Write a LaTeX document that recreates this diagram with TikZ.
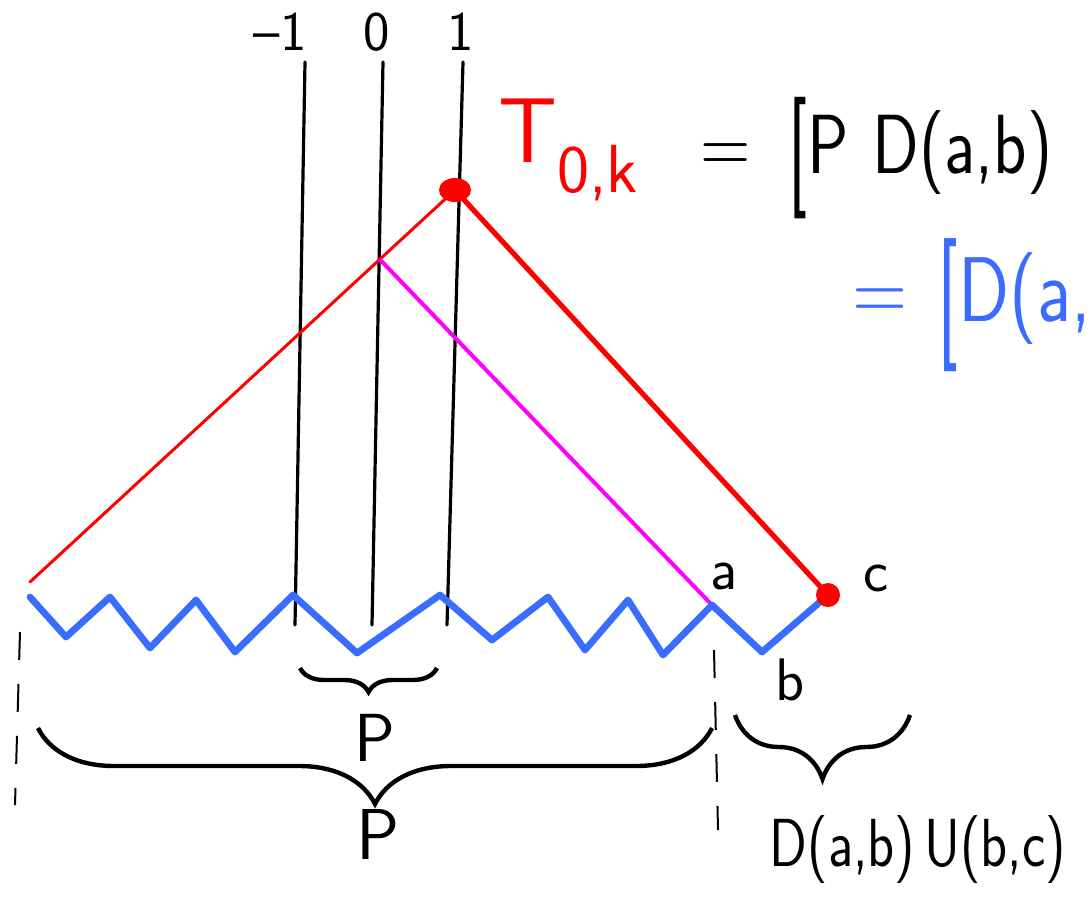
\documentclass[tikz,border=0pt]{standalone}
\usepackage{fontspec}
\usepackage{xcolor}
\usetikzlibrary{arrows.meta, positioning, calc, decorations.pathreplacing}
\definecolor{skRed}{RGB}{255,0,0}
\definecolor{skBlue}{RGB}{58,108,255}
\definecolor{skMagenta}{RGB}{255,0,255}
\newcommand{\tallbr}{\raisebox{-0.18em}{\scalebox{1}[1.45]{[}}}
\newcommand{\narrow}[1]{\scalebox{0.82}[1]{#1}}

\begin{document}
\begin{tikzpicture}[x=0.5pt, y=-0.5pt,
    pen/.style={line width=1.6pt, line cap=round, draw=black},
    redpen/.style={line width=#1, line cap=round, draw=skRed},
    zig/.style={line width=3.4pt, line cap=round, line join=round, draw=skBlue},
    cut/.style={line width=1pt, draw=black, dash pattern=on 14pt off 12pt},
    brc/.style={decorate, decoration={brace, mirror, amplitude=#1},
                line width=2.2pt, draw=black},
    lbl/.style={font=\sffamily\fontsize{#1}{#1}\selectfont, inner sep=0pt}]
\useasboundingbox (0,0) rectangle (1091,910);

% POINTS
\coordinate (apex) at (455,190);
\coordinate (left) at (30,582);
\coordinate (a) at (712,605);
\coordinate (b) at (762,652);
\coordinate (c) at (828,595);
\coordinate (mid) at ($(left)!0.823!(apex)$);

% Vertical lines
\foreach \n/\xt/\xb/\xl/\t in {m1/305/295/280/\textendash1, z0/383/372/377/0,
                              p1/463/447/461/1} {
   \coordinate (\n top) at (\xt,62);
   \coordinate (\n bot) at (\xb,625);
   \draw[pen] (\n top) -- (\n bot);
   \node[lbl=28pt] (\n lab) at (\xl,32) {\t};
}

% Light cone
\draw[redpen=1.5pt] (left) -- (apex);
\draw[redpen=2.6pt] (apex) -- (c);
\draw[line width=2pt, draw=skMagenta] (mid) -- (a);

% Zigzag
\draw[zig] (30,597) -- (66,637) -- (110,597) -- (150,648) -- (196,600)
   -- (235,652) -- (293,595) -- (357,653) -- (440,595) -- (492,640)
   -- (548,597) -- (585,650) -- (628,600) -- (663,655) -- (a) -- (b) -- (c);

\fill[skRed] (apex) ellipse [x radius=8pt, y radius=6pt];
\fill[skRed] (c) circle [radius=6pt];

% Point labels
\node[lbl=30pt] (alab) at (724,576) {a};
\node[lbl=30pt] (blab) at (790,680) {b};
\node[lbl=30pt] (clab) at (876,578) {c};

% Cuts
\draw[cut] (20,632) -- (15,805);
\draw[cut] (714,650) -- (718,830);

% Braces
\coordinate (sb1) at (300,668);
\coordinate (sb2) at (437,668);
\draw[brc=12pt] (sb1) -- (sb2);
\node[lbl=34pt] (plab1) at (375,738) {P};

\coordinate (bb1) at (38,728);
\coordinate (bb2) at (712,728);
\draw[brc=38pt] (bb1) -- (bb2);
\node[lbl=36pt] (plab2) at (378,835) {P};

\coordinate (rb1) at (735,715);
\coordinate (rb2) at (910,715);
\draw[brc=32pt] (rb1) -- (rb2);
\node[lbl=34pt] (dulab) at (918,850) {\narrow{D(a,b)\,U(b,c)}};

% Equations
\node[lbl=46pt, text=skRed] (tok) at (568,150)
   {T\raisebox{-0.32em}{\fontsize{34pt}{34pt}\selectfont 0,k}};
\node[lbl=42pt, anchor=west] (eq1) at (700,158)
   {\narrow{=\hspace{0.55em}\tallbr P\hspace{0.35em}D(a,b)}};
\node[lbl=46pt, anchor=west, text=skBlue] (eq2) at (852,305)
   {\narrow{=\hspace{0.4em}\tallbr D(a,b)}};

\end{tikzpicture}
\end{document}
